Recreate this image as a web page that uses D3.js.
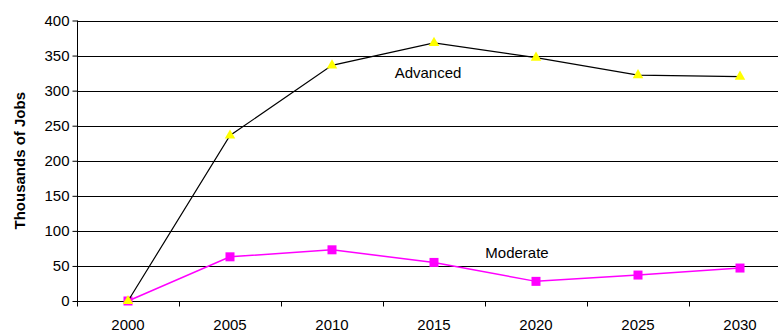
<!DOCTYPE html>
<html>
<head>
<meta charset="utf-8">
<script src="https://d3js.org/d3.v7.min.js"></script>
<style>
  html, body { margin: 0; padding: 0; background: #fff; }
  svg { display: block; font-family: Arial, "Liberation Sans", sans-serif; }
</style>
</head>
<body>
<svg id="chart" width="778" height="332"></svg>
<script>
// Job projections, thousands of jobs
const years = ["2000", "2005", "2010", "2015", "2020", "2025", "2030"];
const advanced = [0, 236, 336, 368, 347, 322, 320];
const moderate = [0, 63, 73, 55, 28, 37, 47];
const yTicks = [0, 50, 100, 150, 200, 250, 300, 350, 400];
const seriesNames = ["Advanced", "Moderate"];

const svg = d3.select("#chart");
const plotLeft = 77, plotRight = 791, plotTop = 20.5, plotBottom = 301;

const x = d3.scaleBand().domain(years).range([plotLeft, plotRight]).padding(0);
const y = d3.scaleLinear().domain([0, 400]).range([plotBottom, plotTop]);
const cx = d => x(d) + x.bandwidth() / 2;

// horizontal gridlines
svg.append("g")
  .selectAll("line")
  .data(yTicks.filter(t => t > 0))
  .join("line")
  .attr("x1", plotLeft).attr("x2", plotRight)
  .attr("y1", d => Math.round(y(d)) + 0.5).attr("y2", d => Math.round(y(d)) + 0.5)
  .attr("stroke", "#000").attr("stroke-width", 1);

// y axis
const yAxis = svg.append("g")
  .attr("transform", `translate(${plotLeft + 0.5},0)`)
  .call(d3.axisLeft(y).tickValues(yTicks).tickSize(5).tickPadding(3).tickFormat(d3.format("d")));
yAxis.select(".domain").attr("stroke", "#000").attr("d", `M0,${y(400)}V${plotBottom}`);
yAxis.selectAll(".tick line").attr("stroke", "#000");
yAxis.selectAll(".tick text").attr("font-size", 15).attr("fill", "#000")
  .attr("font-family", "Arial, 'Liberation Sans', sans-serif");

// x axis: ticks at category boundaries
const xAxis = svg.append("g").attr("transform", `translate(0,${plotBottom + 0.5})`);
xAxis.append("line").attr("x1", plotLeft).attr("x2", plotRight).attr("stroke", "#000");
xAxis.selectAll(".bt")
  .data(years)
  .join("line")
  .attr("class", "bt")
  .attr("x1", d => Math.round(x(d)) + 0.5).attr("x2", d => Math.round(x(d)) + 0.5)
  .attr("y1", 0).attr("y2", 5).attr("stroke", "#000");
xAxis.selectAll("text")
  .data(years)
  .join("text")
  .attr("x", d => cx(d)).attr("y", 28)
  .attr("text-anchor", "middle").attr("font-size", 15).attr("fill", "#000")
  .text(d => d);

// axis title
svg.append("text")
  .attr("transform", `translate(25,${(plotTop + plotBottom) / 2}) rotate(-90)`)
  .attr("text-anchor", "middle").attr("font-size", 15).attr("font-weight", "bold")
  .text("Thousands of Jobs");

const line = d3.line().x((d, i) => cx(years[i])).y(d => y(d));

// Moderate series (drawn first so the Advanced markers sit on top)
svg.append("path").datum(moderate)
  .attr("d", line).attr("fill", "none").attr("stroke", "#ff00ff").attr("stroke-width", 1.5);
svg.append("g").selectAll("rect").data(moderate).join("rect")
  .attr("x", (d, i) => cx(years[i]) - 4.5).attr("y", d => y(d) - 4.5)
  .attr("width", 9).attr("height", 9).attr("fill", "#ff00ff");

// Advanced series
svg.append("path").datum(advanced)
  .attr("d", line).attr("fill", "none").attr("stroke", "#000").attr("stroke-width", 1.2);
svg.append("g").selectAll("path").data(advanced).join("path")
  .attr("d", d3.symbol(d3.symbolTriangle, 48))
  .attr("transform", (d, i) => `translate(${cx(years[i])},${y(d)})`)
  .attr("fill", "#ffff00");

// series labels
svg.append("text").attr("x", 428).attr("y", 78).attr("text-anchor", "middle")
  .attr("font-size", 15).text(seriesNames[0]);
svg.append("text").attr("x", 517).attr("y", 258).attr("text-anchor", "middle")
  .attr("font-size", 15).text(seriesNames[1]);
</script>
</body>
</html>
